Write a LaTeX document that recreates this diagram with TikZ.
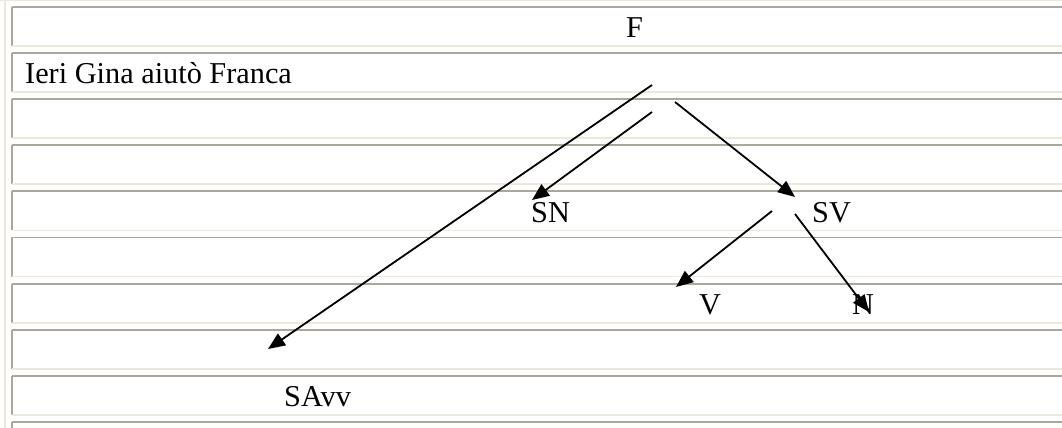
\documentclass[tikz,border=0pt]{standalone}
\usepackage{fontspec}
\setmainfont{Liberation Serif}
\usetikzlibrary{arrows.meta}
\definecolor{cellgray}{RGB}{172,168,153}
\definecolor{cellbeige}{RGB}{236,233,216}
\begin{document}
\begin{tikzpicture}[x=1pt,y=-1pt,
  lbl/.style={anchor=base west,inner sep=0pt,font=\fontsize{30.3}{36}\selectfont},
  arr/.style={line width=1.8pt,-{Triangle[length=17pt,width=14pt]}},
  gline/.style={cellgray,line width=1.8pt},
  bline/.style={cellbeige,line width=1.8pt}]
\useasboundingbox (0,0) rectangle (1062,428);
\fill[white] (0,0) rectangle (1062,428);
\begin{scope}
\clip (0,0) rectangle (1062,428);
\draw[bline] (0,0.6) -- (1062,0.6);
\draw[bline] (5,0) -- (5,428);
\foreach \k in {0,...,9} {
  \pgfmathsetmacro{\t}{6.7+46.15*\k}
  \pgfmathsetmacro{\b}{45.8+46.15*\k}
  \draw[gline] (11.9,\t) -- (1062,\t);
  \draw[gline] (11.9,\t) -- (11.9,\b);
  \draw[bline] (11.9,\b) -- (1062,\b);
}
\end{scope}
% texts
\node[lbl] (F) at (626,37.7) {F};
\node[lbl] (frase) at (25,83.9) {Ieri Gina aiutò Franca};
\node[lbl] (SN) at (531,222.3) {SN};
\node[lbl] (SV) at (812,222.3) {SV};
\node[lbl] (V) at (699,314.6) {V};
\node[lbl] (N) at (852,314.6) {N};
\node[lbl] (SAvv) at (284,406.9) {SAvv};
% connector ends
\coordinate (s1) at (652,85);  \coordinate (e1) at (268,349);
\coordinate (s2) at (652,112); \coordinate (e2) at (532,200);
\coordinate (s3) at (675,102); \coordinate (e3) at (795,197);
\coordinate (s4) at (772,211); \coordinate (e4) at (676,287);
\coordinate (s5) at (795,214); \coordinate (e5) at (869,312);
\draw[arr] (s1) -- (e1);
\draw[arr] (s2) -- (e2);
\draw[arr] (s3) -- (e3);
\draw[arr] (s4) -- (e4);
\draw[arr] (s5) -- (e5);
\end{tikzpicture}
\end{document}
